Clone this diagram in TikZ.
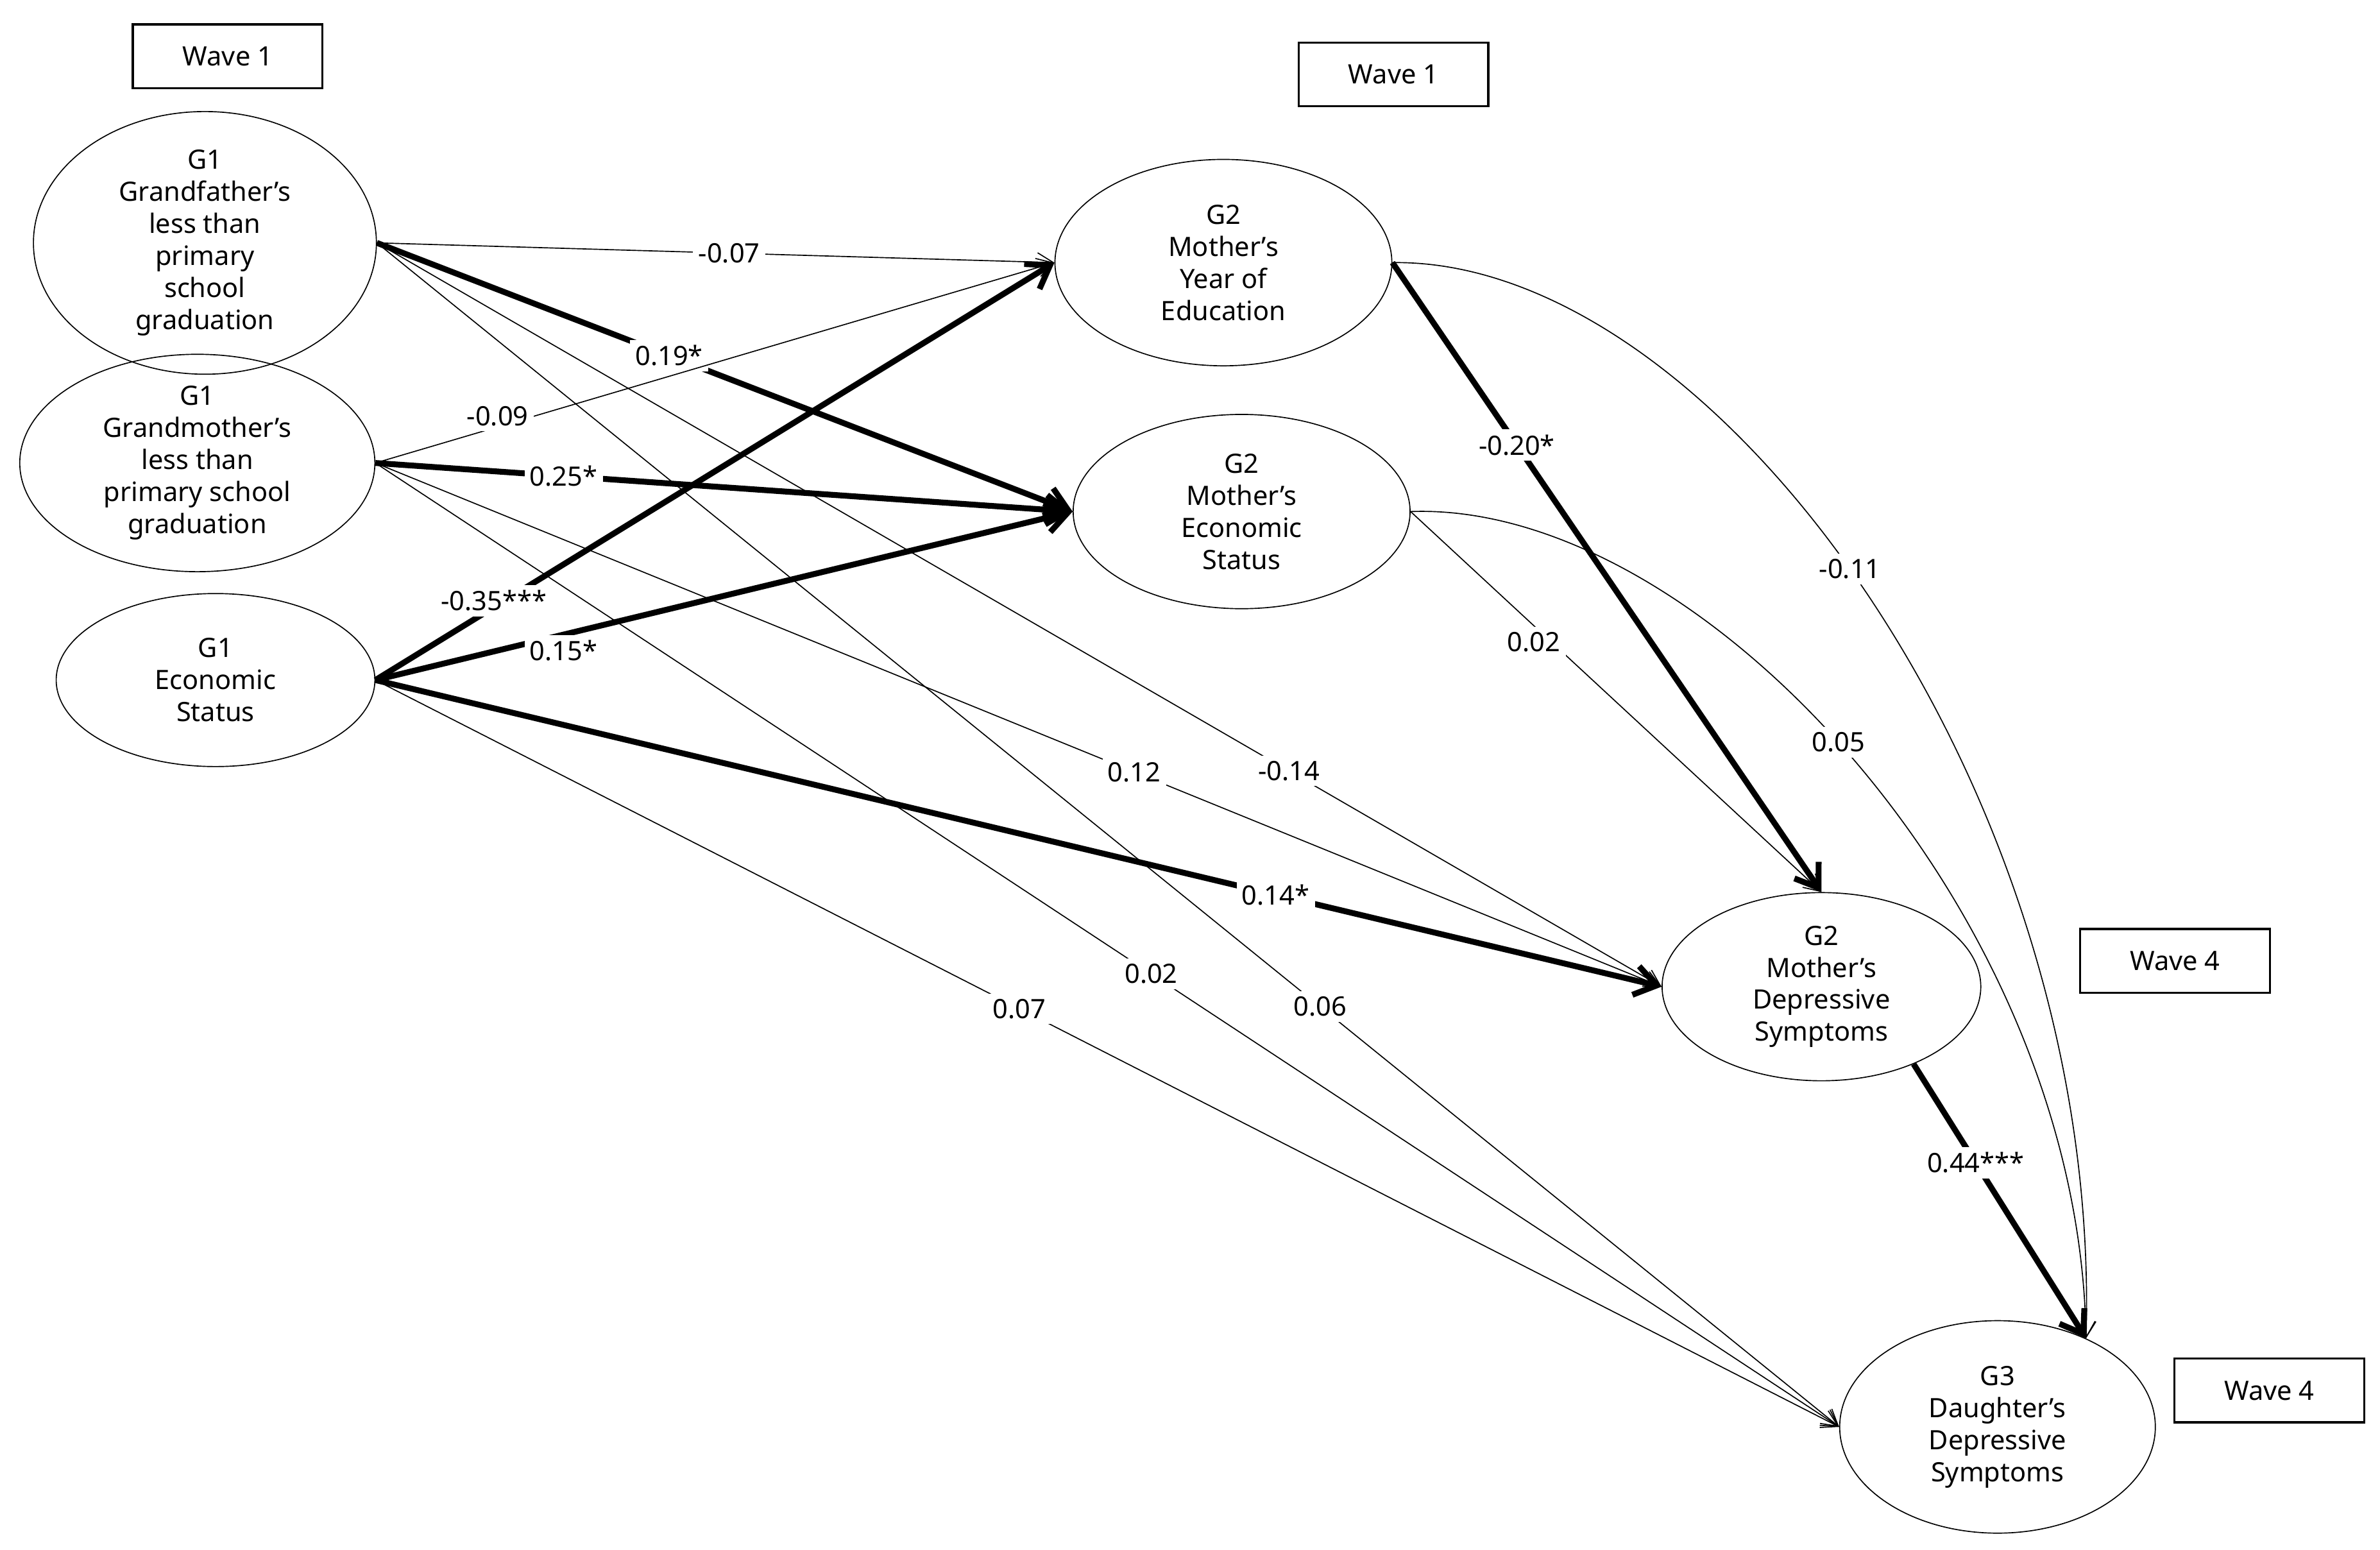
\documentclass[tikz,border=0pt]{standalone}
\usepackage{fontspec}
\setmainfont{Noto Sans}
\usetikzlibrary{arrows.meta,shapes.geometric}
\tikzset{var/.style={draw,ellipse,thin,align=center,font=\fontsize{10}{12}\selectfont,inner sep=0pt},
         wave/.style={draw,thick,minimum width=2.5cm,minimum height=0.84cm,font=\fontsize{10}{12}\selectfont\bfseries},
         lab/.style={fill=white,font=\fontsize{10}{12}\selectfont\bfseries,inner sep=2pt},
         thinpath/.style={line width=0.4pt,-{Straight Barb[length=6pt,width=7pt]}},
         thickpath/.style={line width=2.2pt,-{Straight Barb[length=8pt,width=11pt]}}
}

\begin{document}
\begin{tikzpicture}[x=0.02cm,y=-0.02cm]
  \useasboundingbox(0,0)rectangle(1568,1021);
  % boxes
  \node[wave](w1a)at(150,37){Wave 1};
  \node[wave](w1b)at(918,49){Wave 1};
  \node[wave](w4a)at(1433,633){Wave 4};
  \node[wave](w4b)at(1495,916){Wave 4};
  % variables
  \node[var,minimum width=4.52cm,minimum height=2.88cm](gf)at(135,160){G1\\Grandfather's\\less than\\primary\\school\\graduation};
  \node[var,minimum width=4.68cm,minimum height=2.48cm](gm)at(130,305){G1\\Grandmother's\\less than\\primary school\\graduation};
  \node[var,minimum width=4.2cm,minimum height=2.28cm](es)at(142,448){G1\\Economic\\Status};
  \node[var,minimum width=4.44cm,minimum height=2.72cm](ye)at(806,173){G2\\Mother's\\Year of\\Education};
  \node[var,minimum width=4.44cm,minimum height=2.56cm](me)at(818,337){G2\\Mother's\\Economic\\Status};
  \node[var,minimum width=4.2cm,minimum height=2.48cm](md)at(1200,650){G2\\Mother's\\Depressive\\Symptoms};
  \node[var,minimum width=4.16cm,minimum height=2.8cm](dd)at(1316,940){G3\\Daughter's\\Depressive\\Symptoms};
  % paths from G1
  \draw[thinpath](gf.east)--node[lab,pos=0.52]{-0.07}(ye.west);
  \draw[thickpath](gf.east)--node[lab,pos=0.42]{0.19*}(me.west);
  \draw[thinpath](gf.east)--node[lab,pos=0.71]{-0.14}(md.west);
  \draw[thinpath](gf.east)--node[lab,pos=0.645]{0.06}(dd.west);
  \draw[thinpath](gm.east)--node[lab,pos=0.18,yshift=4pt]{-0.09}(ye.west);
  \draw[thickpath](gm.east)--node[lab,pos=0.27]{0.25*}(me.west);
  \draw[thinpath](gm.east)--node[lab,pos=0.59]{0.12}(md.west);
  \draw[thinpath](gm.east)--node[lab,pos=0.53]{0.02}(dd.west);
  \draw[thickpath](es.east)--node[lab,pos=0.19,xshift=-4pt]{-0.35***}(ye.west);
  \draw[thickpath](es.east)--node[lab,pos=0.27,yshift=-6pt]{0.15*}(me.west);
  \draw[thickpath](es.east)--node[lab,pos=0.70]{0.14*}(md.west);
  \draw[thinpath](es.east)--node[lab,pos=0.44]{0.07}(dd.west);
  % paths from G2
  \draw[thickpath](ye.east)--node[lab,pos=0.29]{-0.20*}(md.north);
  \draw[thinpath](ye.east)..controls(1130,170)and(1385,520)..node[lab,pos=0.48]{-0.11}(dd.45);
  \draw[thinpath](me.east)--node[lab,pos=0.3,yshift=-6pt]{0.02}(md.north);
  \draw[thinpath](me.east)..controls(1120,330)and(1370,600)..node[lab,pos=0.48]{0.05}(dd.45);
  \draw[thickpath](md.-40)--node[lab,pos=0.36]{0.44***}(dd.45);
\end{tikzpicture}
\end{document}
